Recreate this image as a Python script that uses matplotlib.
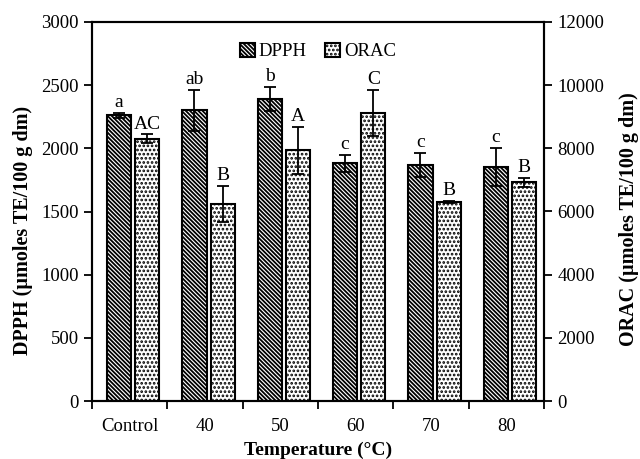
import numpy as np
import matplotlib
matplotlib.use("Agg")
import matplotlib.pyplot as plt

plt.rcParams['font.family'] = ['Liberation Serif', 'DejaVu Serif']
plt.rcParams['hatch.linewidth'] = 1.3

# data
categories = ['Control', '40', '50', '60', '70', '80']
dpph = [2260, 2300, 2390, 1880, 1870, 1850]
dpph_err = [20, 165, 95, 70, 95, 150]
dpph_letters = ['a', 'ab', 'b', 'c', 'c', 'c']
orac = [8300, 6250, 7940, 9120, 6310, 6920]
orac_err = [140, 570, 740, 720, 30, 140]
orac_letters = ['AC', 'B', 'A', 'C', 'B', 'B']

fig = plt.figure(figsize=(6.4, 4.59), dpi=100)
ax = fig.add_axes([92 / 640, 1 - 401 / 459, 452 / 640, 379 / 459])
ax2 = ax.twinx()

x = np.arange(len(categories))
w = 0.32
xd = x - 0.14
xo = x + 0.235

ax.bar(xd, dpph, w, color='white', edgecolor='black', hatch='\\' * 8, linewidth=1.5,
       label='DPPH', zorder=2)
ax.errorbar(xd, dpph, yerr=dpph_err, fmt='none', ecolor='black', elinewidth=1.3,
            capsize=4, capthick=1.3, zorder=3)
ax2.bar(xo, orac, w, color='white', edgecolor='black', hatch='....', linewidth=1.5,
        label='ORAC', zorder=2)
ax2.errorbar(xo, orac, yerr=orac_err, fmt='none', ecolor='black', elinewidth=1.3,
             capsize=4, capthick=1.3, zorder=3)

for xi, v, e, t in zip(xd, dpph, dpph_err, dpph_letters):
    ax.text(xi, v + e + 15, t, ha='center', va='bottom', fontsize=14)
for xi, v, e, t in zip(xo, orac, orac_err, orac_letters):
    ax2.text(xi, v + e + 60, t, ha='center', va='bottom', fontsize=14)

ax.set_xlim(-0.5, len(categories) - 0.5)
ax.set_ylim(0, 3000)
ax2.set_ylim(0, 12000)
ax.set_yticks(np.arange(0, 3001, 500))
ax2.set_yticks(np.arange(0, 12001, 2000))

ax.set_xticks(np.arange(-0.5, len(categories), 1))
ax.set_xticklabels([])
ax.set_xticks(x, minor=True)
ax.set_xticklabels(categories, minor=True)
ax.tick_params(axis='x', which='minor', length=0, pad=12, labelsize=13.5)
ax.tick_params(axis='x', which='major', direction='out', length=6, width=1.3)
ax.tick_params(axis='y', direction='out', length=6, width=1.3, labelsize=13.5)
ax2.tick_params(axis='y', direction='out', length=6, width=1.3, labelsize=13.5)
for a in (ax, ax2):
    for s in a.spines.values():
        s.set_linewidth(1.5)

ax.set_xlabel('Temperature (°C)', fontsize=14, fontweight='bold', labelpad=5)
ax.set_ylabel('DPPH (µmoles TE/100 g dm)', fontsize=14.5, fontweight='bold')
ax2.set_ylabel('ORAC (µmoles TE/100 g dm)', fontsize=14.5, fontweight='bold', rotation=90)
ax.yaxis.set_label_coords(-0.13, 0.45)
ax2.yaxis.set_label_coords(1.165, 0.48)

h1, l1 = ax.get_legend_handles_labels()
h2, l2 = ax2.get_legend_handles_labels()
ax2.legend(h1 + h2, l1 + l2, loc='upper center', ncol=2, frameon=False, fontsize=13.5,
           handlelength=0.8, handleheight=0.8, handletextpad=0.2, columnspacing=1.0,
           bbox_to_anchor=(0.5, 0.99))

fig.savefig('out.png', dpi=100)
